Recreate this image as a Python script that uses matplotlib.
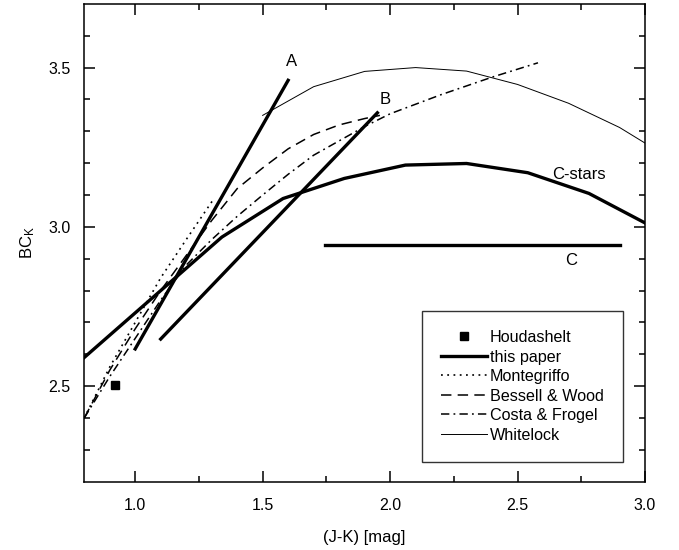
import matplotlib
matplotlib.use("Agg")
import matplotlib.pyplot as plt

plt.rcParams['font.family'] = ['Liberation Sans', 'DejaVu Sans']
plt.rcParams['mathtext.default'] = 'regular'
plt.rcParams['lines.scale_dashes'] = False

# --- data ---
cstars_x = [0.80, 1.10, 1.34, 1.58, 1.82, 2.06, 2.30, 2.54, 2.78, 3.02]
cstars_y = [2.59, 2.80, 2.968, 3.089, 3.152, 3.194, 3.199, 3.170, 3.105, 3.004]

lineA_x = [1.00, 1.60]
lineA_y = [2.617, 3.46]
lineB_x = [1.10, 1.95]
lineB_y = [2.648, 3.358]
lineC_x = [1.745, 2.90]
lineC_y = [2.942, 2.942]

monte_x = [0.80, 0.90, 1.00, 1.10, 1.20, 1.31]
monte_y = [2.40, 2.56, 2.70, 2.84, 2.96, 3.09]

bessell_x = [0.80, 0.90, 1.00, 1.10, 1.20, 1.30, 1.40, 1.50, 1.60, 1.70, 1.80, 1.90, 1.96]
bessell_y = [2.40, 2.55, 2.68, 2.80, 2.91, 3.02, 3.12, 3.185, 3.245, 3.29, 3.32, 3.34, 3.35]

costa_x = [0.80, 0.90, 1.00, 1.10, 1.20, 1.30, 1.40, 1.50, 1.60, 1.70, 1.80, 1.90, 2.00, 2.20, 2.40, 2.58]
costa_y = [2.40, 2.53, 2.65, 2.77, 2.88, 2.96, 3.033, 3.10, 3.165, 3.225, 3.27, 3.315, 3.355, 3.415, 3.47, 3.515]

white_x = [1.50, 1.70, 1.90, 2.10, 2.30, 2.50, 2.70, 2.90, 3.00]
white_y = [3.35, 3.44, 3.488, 3.50, 3.489, 3.447, 3.388, 3.312, 3.263]

houd_x = [0.92]
houd_y = [2.505]

labels = ["Houdashelt", "this paper", "Montegriffo", "Bessell & Wood", "Costa & Frogel", "Whitelock"]

fig = plt.figure(figsize=(6.79, 5.5), dpi=100)
ax = fig.add_axes([0.124, 0.124, 0.826, 0.869])

h_houd, = ax.plot(houd_x, houd_y, ls='none', marker='s', ms=5.5, color='black', label=labels[0])
h_this, = ax.plot(cstars_x, cstars_y, color='black', lw=2.4, label=labels[1])
ax.plot(lineA_x, lineA_y, color='black', lw=2.4)
ax.plot(lineB_x, lineB_y, color='black', lw=2.4)
ax.plot(lineC_x, lineC_y, color='black', lw=2.4)
h_monte, = ax.plot(monte_x, monte_y, color='black', lw=1.2, dashes=(1.3, 3.2), label=labels[2])
h_bess, = ax.plot(bessell_x, bessell_y, color='black', lw=1.1, dashes=(7.5, 4.5), label=labels[3])
h_costa, = ax.plot(costa_x, costa_y, color='black', lw=1.1, dashes=(6, 3, 1.3, 3), label=labels[4])
h_white, = ax.plot(white_x, white_y, color='black', lw=0.7, label=labels[5])

ax.text(1.612, 3.52, "A", fontsize=12, ha='center', va='center')
ax.text(1.98, 3.40, "B", fontsize=12, ha='center', va='center')
ax.text(2.74, 3.163, "C-stars", fontsize=12, ha='center', va='center')
ax.text(2.71, 2.893, "C", fontsize=12, ha='center', va='center')

ax.set_xlim(0.8, 3.0)
ax.set_ylim(2.2, 3.7)
ax.set_xticks([1.0, 1.5, 2.0, 2.5, 3.0])
ax.set_xticks([1.25, 1.75, 2.25, 2.75], minor=True)
ax.set_yticks([2.5, 3.0, 3.5])
ax.set_yticks([2.3, 2.4, 2.6, 2.7, 2.8, 2.9, 3.1, 3.2, 3.3, 3.4, 3.6], minor=True)
ax.tick_params(which='both', direction='in', top=True, right=True, labelsize=11.5, width=1.1)
ax.tick_params(which='major', length=8)
ax.tick_params(which='minor', length=4.5)
ax.tick_params(axis='x', which='major', pad=12)
ax.tick_params(axis='y', which='major', pad=10)
for s in ax.spines.values():
    s.set_linewidth(1.1)

ax.set_xlabel("(J-K) [mag]", fontsize=12, labelpad=12)
ax.set_ylabel(r"BC$_{K}$", fontsize=12, labelpad=8)

leg = ax.legend(handles=[h_houd, h_this, h_monte, h_bess, h_costa, h_white],
                loc='upper left', bbox_to_anchor=(0.6025, 0.358),
                frameon=True, fancybox=False, edgecolor='black', fontsize=11.6,
                handlelength=2.8, handletextpad=0.2, labelspacing=0.28,
                borderpad=1.2, borderaxespad=0.0, numpoints=1)
leg.get_frame().set_linewidth(1.0)

fig.savefig("out.png", dpi=100)
